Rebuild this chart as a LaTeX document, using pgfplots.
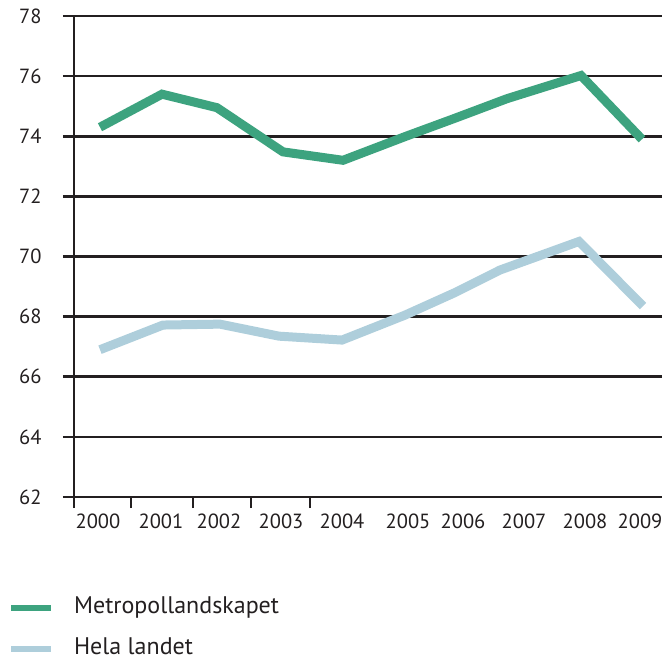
\documentclass[border=0pt]{standalone}
\usepackage{pgfplots}
\pgfplotsset{compat=1.18}
\usepackage{fontspec}
\setmainfont{PT Sans}
\definecolor{mgreen}{RGB}{61,163,127}
\definecolor{lblue}{RGB}{174,206,219}
\definecolor{gridc}{RGB}{35,31,32}
\begin{document}
\begin{tikzpicture}[x=1pt,y=1pt]
\useasboundingbox (0,0) rectangle (662,662);
\begin{axis}[
  at={(74pt,165pt)}, anchor=south west,
  scale only axis, width=588pt, height=481pt,
  xmin=74, xmax=662, ymin=62, ymax=78,
  axis lines=left, axis line style={-, line width=2.6pt, color=gridc},
  ytick={62,64,...,78},
  ymajorgrids, major grid style={line width=2.6pt, color=gridc},
  xtick={74,131,193,251,310}, xticklabels={},
  extra x ticks={98,161,219,281,342,408,463,524,585,640},
  extra x tick labels={2000,2001,2002,2003,2004,2005,2006,2007,2008,2009},
  extra x tick style={major tick length=0pt, grid=none, tick style={draw=none}},
  tick align=outside, major tick length=11pt,
  tick style={line width=2.6pt, color=gridc},
  xticklabel style={yshift=-13pt},
  yticklabel style={xshift=-18pt},
  tick label style={font=\fontsize{20.5}{24}\selectfont, color=gridc},
  /pgf/number format/assume math mode=true,
  clip=false,
  legend style={draw=none, fill=none, at={(-0.1175,-0.205)}, anchor=north west,
    font=\fontsize{24}{28}\selectfont, text=gridc, row sep=21pt,
    nodes={inner sep=0pt, text height=16pt, text depth=4pt}},
  legend cell align=left,
  /tikz/every odd column/.style={column sep=20pt},
  legend image code/.code={\draw[#1, line width=6pt] (0pt,0pt) -- (40pt,0pt);},
]
\addplot[mgreen, line width=9pt] coordinates {
  (100,74.3) (162,75.4) (217,74.95) (283,73.48) (343,73.2)
  (406,74.0) (455,74.6) (507,75.25) (581,76.02) (642,73.9)};
\addlegendentry{Metropollandskapet}
\addplot[lblue, line width=9pt] coordinates {
  (100,66.9) (163,67.72) (220,67.75) (279,67.35) (342,67.22)
  (405,68.05) (455,68.8) (500,69.55) (579,70.5) (643,68.35)};
\addlegendentry{Hela landet}
\end{axis}
\end{tikzpicture}
\end{document}
